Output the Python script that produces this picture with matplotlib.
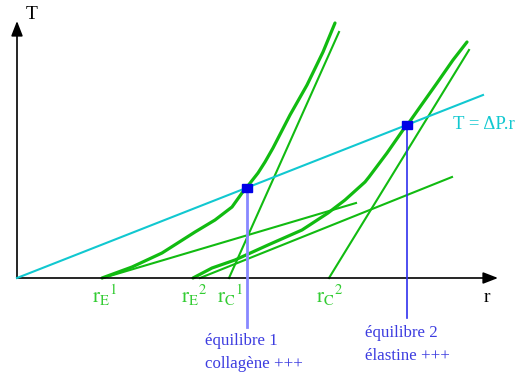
import matplotlib
matplotlib.use("Agg")
import matplotlib.pyplot as plt
from matplotlib.patches import Rectangle

plt.rcParams["mathtext.fontset"] = "stix"
SERIF = "Liberation Serif"

# Pressure slope of the Laplace line T = dP * r
dP = 0.3927
laplace_r = [0, 466]

# Elastin and collagen straight responses (r, T)
elastin1_r = [86, 339]
elastin1_T = [0, 75]
elastin2_r = [183, 435]
elastin2_T = [0, 101]
collagen1_r = [212, 322]
collagen1_T = [0, 246]
collagen2_r = [312, 452]
collagen2_T = [0, 228]

# Combined wall tension curves
wall1_r = [85, 115, 145, 178, 198, 215, 225, 230, 241, 248, 256, 273, 290, 306, 318]
wall1_T = [0, 11, 25, 46, 58, 71, 85, 91, 105, 116, 130, 163, 193, 226, 255]
wall2_r = [176, 195, 218, 251, 285, 311, 328, 348, 352, 370, 386, 391, 403, 420, 436, 450]
wall2_T = [0, 10, 18, 33, 48, 65, 78, 96, 101, 125, 148, 154, 171, 195, 218, 236]

# Equilibrium radii and their captions
equil_r = [230, 390]
equil_line1 = ["équilibre 1", "équilibre 2"]
equil_line2 = ["collagène +++", "élastine +++"]

# Tick positions on the r axis
tick_r = [86, 175, 211, 311]
tick_labels = [r"$\mathrm{r_E{}^{1}}$", r"$\mathrm{r_E{}^{2}}$",
               r"$\mathrm{r_C{}^{1}}$", r"$\mathrm{r_C{}^{2}}$"]

GREEN = "#11bb11"
CYAN = "#11c8d0"
BLUE = "#0000e6"

fig = plt.figure(figsize=(5.22, 3.74), dpi=100)
ax = fig.add_axes([0, 0, 1, 1])
ax.set_xlim(-17, 505)
ax.set_ylim(-96, 278)
ax.axis("off")

# axes with arrowheads
ax.annotate("", xy=(0, 257), xytext=(0, 0),
            arrowprops=dict(arrowstyle="-|>,head_length=0.9,head_width=0.35",
                            color="black", lw=1.2, shrinkA=0, shrinkB=0))
ax.annotate("", xy=(481, 0), xytext=(0, 0),
            arrowprops=dict(arrowstyle="-|>,head_length=0.9,head_width=0.35",
                            color="black", lw=1.2, shrinkA=0, shrinkB=0))
ax.text(9, 264, "T", fontsize=14, family=SERIF, ha="left", va="center")
ax.text(470, -19, "r", fontsize=14, family=SERIF, ha="center", va="center")

# Laplace line
ax.plot(laplace_r, [dP * r for r in laplace_r], color=CYAN, lw=1.5, zorder=3)
ax.text(436, 154, "T = ΔP.r", color=CYAN, fontsize=13.5, family=SERIF,
        ha="left", va="center")

# straight component lines
for xs, ys in [(elastin1_r, elastin1_T), (elastin2_r, elastin2_T),
               (collagen1_r, collagen1_T), (collagen2_r, collagen2_T)]:
    ax.plot(xs, ys, color=GREEN, lw=1.5, zorder=2)

# combined curves
for xs, ys in [(wall1_r, wall1_T), (wall2_r, wall2_T)]:
    ax.plot(xs, ys, color=GREEN, lw=2.3, zorder=2, solid_capstyle="round")

# equilibrium markers, drop lines and captions
drop_colors = ["#8888ff", "#3030ee"]
drop_widths = [2.0, 1.2]
drop_ends = [-49, -40]
text_y = [-63, -55]
for r, l1, l2, c, w, end, ty in zip(equil_r, equil_line1, equil_line2,
                                    drop_colors, drop_widths, drop_ends, text_y):
    t = dP * r
    ax.plot([r, r], [t, end], color=c, lw=w, zorder=4)
    ax.add_patch(Rectangle((r - 5, t - 4), 10, 8, color=BLUE, zorder=5))
    ax.text(r - 42, ty, l1, color="#3c3ce0", fontsize=12.2, family=SERIF,
            ha="left", va="center")
    ax.text(r - 42, ty - 23, l2, color="#3c3ce0", fontsize=12.2, family=SERIF,
            ha="left", va="center")

# tick labels on the r axis
for r, lab in zip(tick_r, tick_labels):
    ax.text(r + 2, -17, lab, color="#33cc33", fontsize=15, ha="center", va="center")

fig.savefig("out.png", dpi=100)
